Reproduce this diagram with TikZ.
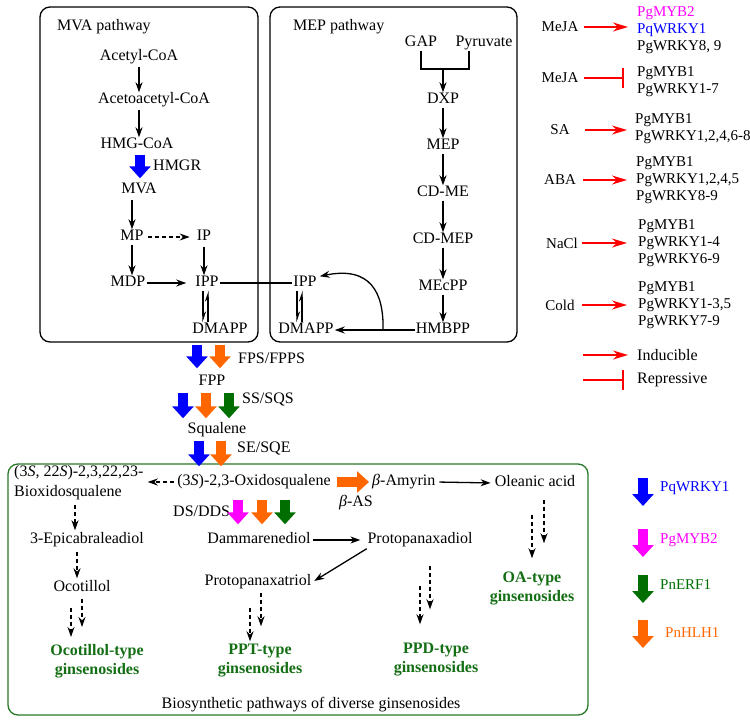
\documentclass[tikz,border=0pt]{standalone}
\usepackage{fontspec}
\setmainfont{Liberation Serif}
\usetikzlibrary{arrows.meta}
\definecolor{fblue}{RGB}{0,0,255}
\definecolor{forange}{RGB}{255,102,0}
\definecolor{fgreen}{RGB}{0,110,0}
\definecolor{fmag}{RGB}{255,0,255}
\definecolor{tgreen}{RGB}{20,110,20}
\definecolor{bgreen}{RGB}{40,120,40}
\definecolor{fred}{RGB}{255,0,0}
\begin{document}
\begin{tikzpicture}[x=1pt,y=-1pt,
  txt/.style={inner sep=1pt,text height=10pt,text depth=3pt,font=\fontsize{16}{19}\selectfont},
  rtxt/.style={inner sep=1pt,font=\fontsize{15}{17}\selectfont,align=left},
  gtxt/.style={inner sep=1pt,font=\fontsize{16}{19}\selectfont\bfseries,text=tgreen,align=center},
  arr/.style={line width=1.3pt,-{Stealth[length=10pt,width=7pt]}},
  darr/.style={arr,dash pattern=on 4pt off 3pt},
  harp/.style={line width=1.2pt,-{Stealth[length=9pt,width=6pt,harpoon]}},
  fat/.style={line width=10pt,-{Triangle[length=12pt,width=21pt]}},
  redarr/.style={line width=1.6pt,draw=fred,-{Stealth[length=15pt,width=9pt]}},
  redbar/.style={line width=1.6pt,draw=fred,-{Bar[width=20pt]}},
  pbox/.style={rounded corners=10pt,line width=1.3pt},
]
\useasboundingbox (0,0) rectangle (750,723);

% ---------- boxes ----------
\draw[pbox] (40,7) rectangle (258,342);
\draw[pbox] (270,7) rectangle (517,342);
\draw[pbox,draw=bgreen] (8,464) rectangle (588,715);

% ---------- MVA pathway ----------
\node[txt,anchor=west] (mvat) at (56,27) {MVA pathway};
\node[txt] (acetyl) at (139,57) {Acetyl-CoA};
\node[txt] (acetoac) at (154,100) {Acetoacetyl-CoA};
\node[txt] (hmgcoa) at (137,145) {HMG-CoA};
\node[txt] (mva) at (139,190) {MVA};
\node[txt] (mp) at (132,237) {MP};
\node[txt] (ip) at (204,237) {IP};
\node[txt] (mdp) at (128,283) {MDP};
\node[txt] (ipp) at (207,283) {IPP};
\node[txt] (dmapp) at (220,330) {DMAPP};
\node[txt,anchor=west] (hmgr) at (152,167) {HMGR};

\draw[arr,shorten <=2pt] (acetyl.south) -- (acetyl.south |- acetoac.north);
\draw[arr,shorten <=2pt] (acetyl.south |- acetoac.south) -- (acetyl.south |- hmgcoa.north);
\draw[fat,fblue,shorten <=2pt,shorten >=4pt] ([xshift=3pt]hmgcoa.south) -- ([xshift=3pt]hmgcoa.south |- mva.north);
\draw[arr,shorten <=2pt] (mp.north |- mva.south) -- (mp.north);
\draw[darr,shorten <=3pt,shorten >=6pt] (mp.east) -- (ip.west);
\draw[arr] (mp.south) -- (mp.south |- mdp.north);
\draw[arr,shorten >=8pt] (mdp.east) -- (ipp.west);
\draw[arr,shorten <=2pt] (ip.south) -- (ip.south |- ipp.north);
\draw[harp] ([xshift=-4pt]ipp.south) -- ([xshift=-4pt]ipp.south |- dmapp.north);
\draw[harp] ([xshift=1pt]ipp.south |- dmapp.north) -- ([xshift=1pt]ipp.south);

% ---------- MEP pathway ----------
\node[txt,anchor=west] (mept) at (292,27) {MEP pathway};
\node[txt] (gap) at (421,43) {GAP};
\node[txt] (pyr) at (484,43) {Pyruvate};
\node[txt] (dxp) at (443,100) {DXP};
\node[txt] (mep) at (443,146) {MEP};
\node[txt] (cdme) at (443,193) {CD-ME};
\node[txt] (cdmep) at (443,240) {CD-MEP};
\node[txt] (mecpp) at (443,287) {MEcPP};
\node[txt] (hmbpp) at (443,330) {HMBPP};
\node[txt] (ipp2) at (305,283) {IPP};
\node[txt] (dmapp2) at (306,330) {DMAPP};
\coordinate (jn) at (443,69);
\coordinate (brr) at (469,69);
\coordinate (cv) at (383,330);

\draw[line width=1.2pt] (gap.south) |- (jn) -- (brr) -- (brr |- pyr.south);
\draw[arr] (jn) -- (dxp.north);
\draw[arr] (dxp) -- (mep);
\draw[arr] (mep) -- (cdme);
\draw[arr] (cdme) -- (cdmep);
\draw[arr] (cdmep) -- (mecpp);
\draw[arr] (mecpp) -- (hmbpp);
\draw[arr] (hmbpp.west) -- (dmapp2.east);
\draw[arr] (cv) .. controls (384,292) and (370,266) .. ([xshift=2pt,yshift=-1pt]ipp2.north east);
\draw[line width=1.2pt] (ipp.east) -- (ipp2.west);
\draw[harp] ([xshift=-8pt]ipp2.south) -- ([xshift=-8pt]ipp2.south |- dmapp2.north);
\draw[harp] ([xshift=-3pt]ipp2.south |- dmapp2.north) -- ([xshift=-3pt]ipp2.south);

% ---------- core chain ----------
\node[txt] (fpp) at (212,382) {FPP};
\node[txt] (squal) at (217,430) {Squalene};
\node[txt] (oxido) at (254,482) {(3\textit{S})-2,3-Oxidosqualene};
\node[txt,anchor=west] (fps) at (237,360) {FPS/FPPS};
\node[txt,anchor=west] (ss) at (241,400) {SS/SQS};
\node[txt,anchor=west] (se) at (236,449) {SE/SQE};

\draw[fat,fblue,shorten <=7pt,shorten >=6pt] (197,0 |- dmapp.south) -- (197,0 |- fpp.north);
\draw[fat,forange,shorten <=7pt,shorten >=6pt] (220,0 |- dmapp.south) -- (220,0 |- fpp.north);
\draw[fat,fblue,shorten <=3pt,shorten >=4pt] (183,0 |- fpp.south) -- (183,0 |- squal.north);
\draw[fat,forange,shorten <=3pt,shorten >=4pt] (206,0 |- fpp.south) -- (206,0 |- squal.north);
\draw[fat,fgreen,shorten <=3pt,shorten >=4pt] (229,0 |- fpp.south) -- (229,0 |- squal.north);
\draw[fat,fblue,shorten <=3pt,shorten >=8pt] (199,0 |- squal.south) -- (199,0 |- oxido.north);
\draw[fat,forange,shorten <=3pt,shorten >=8pt] (221,0 |- squal.south) -- (221,0 |- oxido.north);

% ---------- ginsenoside box ----------
\node[txt,anchor=west,align=left,text height=,text depth=] (biox) at (13,483) {(3\textit{S}, 22\textit{S})-2,3,22,23-\\[1pt]Bioxidosqualene};
\node[txt,anchor=west] (amyrin) at (371,482) {\textit{β}-Amyrin};
\node[txt] (betaas) at (356,503) {\textit{β}-AS};
\node[txt] (olean) at (535,483) {Oleanic acid};
\node[txt] (epi) at (87,540) {3-Epicabraleadiol};
\node[txt] (ocot) at (82,588) {Ocotillol};
\node[txt,anchor=west] (ds) at (172,513) {DS/DDS};
\node[txt] (dam) at (259,540) {Dammarenediol};
\node[txt] (ppd) at (420,540) {Protopanaxadiol};
\node[txt] (ppt) at (258,582) {Protopanaxatriol};
\node[gtxt] (ocotg) at (97,661) {Ocotillol-type\\ginsenosides};
\node[gtxt] (pptg) at (260,661) {PPT-type\\ginsenosides};
\node[gtxt] (ppdg) at (436,660) {PPD-type\\ginsenosides};
\node[gtxt] (oag) at (532,588) {OA-type\\ginsenosides};
\node[txt] (bio) at (311,705) {Biosynthetic pathways of diverse ginsenosides};

\draw[darr,shorten <=2pt,shorten >=3pt] (oxido.west) -- (oxido.west -| biox.east);
\draw[fat,forange,shorten <=5pt,shorten >=2pt] (oxido.east) -- (amyrin.west);
\draw[arr,shorten <=3pt,shorten >=3pt] (amyrin.east) -- (olean.west);
\draw[darr,shorten <=4pt,shorten >=2pt] (75,0 |- biox.south) -- (75,0 |- epi.north);
\draw[darr,shorten <=4pt,shorten >=2pt] (77,0 |- epi.south) -- (77,0 |- ocot.north);
\draw[darr,shorten <=12pt,shorten >=6pt] (71,0 |- ocot.south) -- (71,0 |- ocotg.north);
\draw[darr,shorten <=3pt,shorten >=16pt] (82,0 |- ocot.south) -- (82,0 |- ocotg.north);
\draw[fat,fmag,shorten <=10pt,shorten >=8pt] (238,0 |- oxido.south) -- (238,0 |- dam.north);
\draw[fat,forange,shorten <=10pt,shorten >=8pt] (262,0 |- oxido.south) -- (262,0 |- dam.north);
\draw[fat,fgreen,shorten <=10pt,shorten >=8pt] (285,0 |- oxido.south) -- (285,0 |- dam.north);
\draw[arr,shorten <=1pt,shorten >=6pt] (dam.east) -- (ppd.west);
\draw[arr,shorten <=2pt,shorten >=2pt] ([xshift=2pt]ppd.south west) -- (ppt.east);
\draw[darr,shorten <=18pt,shorten >=2pt] (250,0 |- ppt.south) -- (250,0 |- pptg.north);
\draw[darr,shorten <=3pt,shorten >=17pt] (261,0 |- ppt.south) -- (261,0 |- pptg.north);
\draw[darr,shorten <=38pt,shorten >=18pt] (420,0 |- ppd.south) -- (420,0 |- ppdg.north);
\draw[darr,shorten <=18pt,shorten >=33pt] (430,0 |- ppd.south) -- (430,0 |- ppdg.north);
\draw[darr,shorten <=24pt,shorten >=12pt] (532,0 |- olean.south) -- (532,0 |- oag.north);
\draw[darr,shorten <=9pt,shorten >=27pt] (544,0 |- olean.south) -- (544,0 |- oag.north);

% ---------- stimuli panel ----------
\node[rtxt] (meja1) at (560,27) {MeJA};
\node[rtxt] (meja2) at (560,78) {MeJA};
\node[rtxt] (sa) at (560,130) {SA};
\node[rtxt] (aba) at (560,180) {ABA};
\node[rtxt] (nacl) at (562,243) {NaCl};
\node[rtxt] (cold) at (560,305) {Cold};
\node[rtxt,anchor=west] (g1) at (636,30) {\textcolor{fmag}{PgMYB2}\\\textcolor{fblue}{PqWRKY1}\\PgWRKY8, 9};
\node[rtxt,anchor=west] (g2) at (636,82) {PgMYB1\\PgWRKY1-7};
\node[rtxt,anchor=west] (g3) at (634,129) {PgMYB1\\PgWRKY1,2,4,6-8};
\node[rtxt,anchor=west] (g4) at (635,180) {PgMYB1\\PgWRKY1,2,4,5\\PgWRKY8-9};
\node[rtxt,anchor=west] (g5) at (637,243) {PgMYB1\\PgWRKY1-4\\PgWRKY6-9};
\node[rtxt,anchor=west] (g6) at (637,305) {PgMYB1\\PgWRKY1-3,5\\PgWRKY7-9};
\draw[redarr,shorten <=4pt,shorten >=8pt] (meja1.east) -- (meja1.east -| g1.west);
\draw[redbar,shorten <=4pt,shorten >=12pt] (meja2.east) -- (meja2.east -| g2.west);
\draw[redarr,shorten <=14pt,shorten >=7pt] (sa.east) -- (sa.east -| g3.west);
\draw[redarr,shorten <=6pt,shorten >=8pt] (aba.east) -- (aba.east -| g4.west);
\draw[redarr,shorten <=3pt,shorten >=10pt] (nacl.east) -- (nacl.east -| g5.west);
\draw[redarr,shorten <=6pt,shorten >=10pt] (cold.east) -- (cold.east -| g6.west);

% ---------- legends ----------
\node[rtxt,anchor=west,font=\fontsize{16}{19}\selectfont] (ind) at (636,355) {Inducible};
\node[rtxt,anchor=west,font=\fontsize{16}{19}\selectfont] (rep) at (636,380) {Repressive};
\coordinate (l1) at (583,355);
\coordinate (l2) at (583,380);
\draw[redarr,shorten >=8pt] (l1) -- (l1 -| ind.west);
\draw[redbar,shorten >=12pt] (l2) -- (l2 -| rep.west);

\node[rtxt,anchor=west,text=fblue] (k1) at (659,488) {PqWRKY1};
\node[rtxt,anchor=west,text=fmag] (k2) at (659,540) {PgMYB2};
\node[rtxt,anchor=west,text=fgreen] (k3) at (659,585) {PnERF1};
\node[rtxt,anchor=west,text=forange] (k4) at (664,633) {PnHLH1};
\coordinate (k1a) at (643,478); \coordinate (k1b) at (643,506);
\coordinate (k2a) at (643,529); \coordinate (k2b) at (643,557);
\coordinate (k3a) at (643,575); \coordinate (k3b) at (643,603);
\coordinate (k4a) at (643,620); \coordinate (k4b) at (643,648);
\draw[fat,fblue] (k1a) -- (k1b);
\draw[fat,fmag] (k2a) -- (k2b);
\draw[fat,fgreen] (k3a) -- (k3b);
\draw[fat,forange] (k4a) -- (k4b);
\end{tikzpicture}
\end{document}
